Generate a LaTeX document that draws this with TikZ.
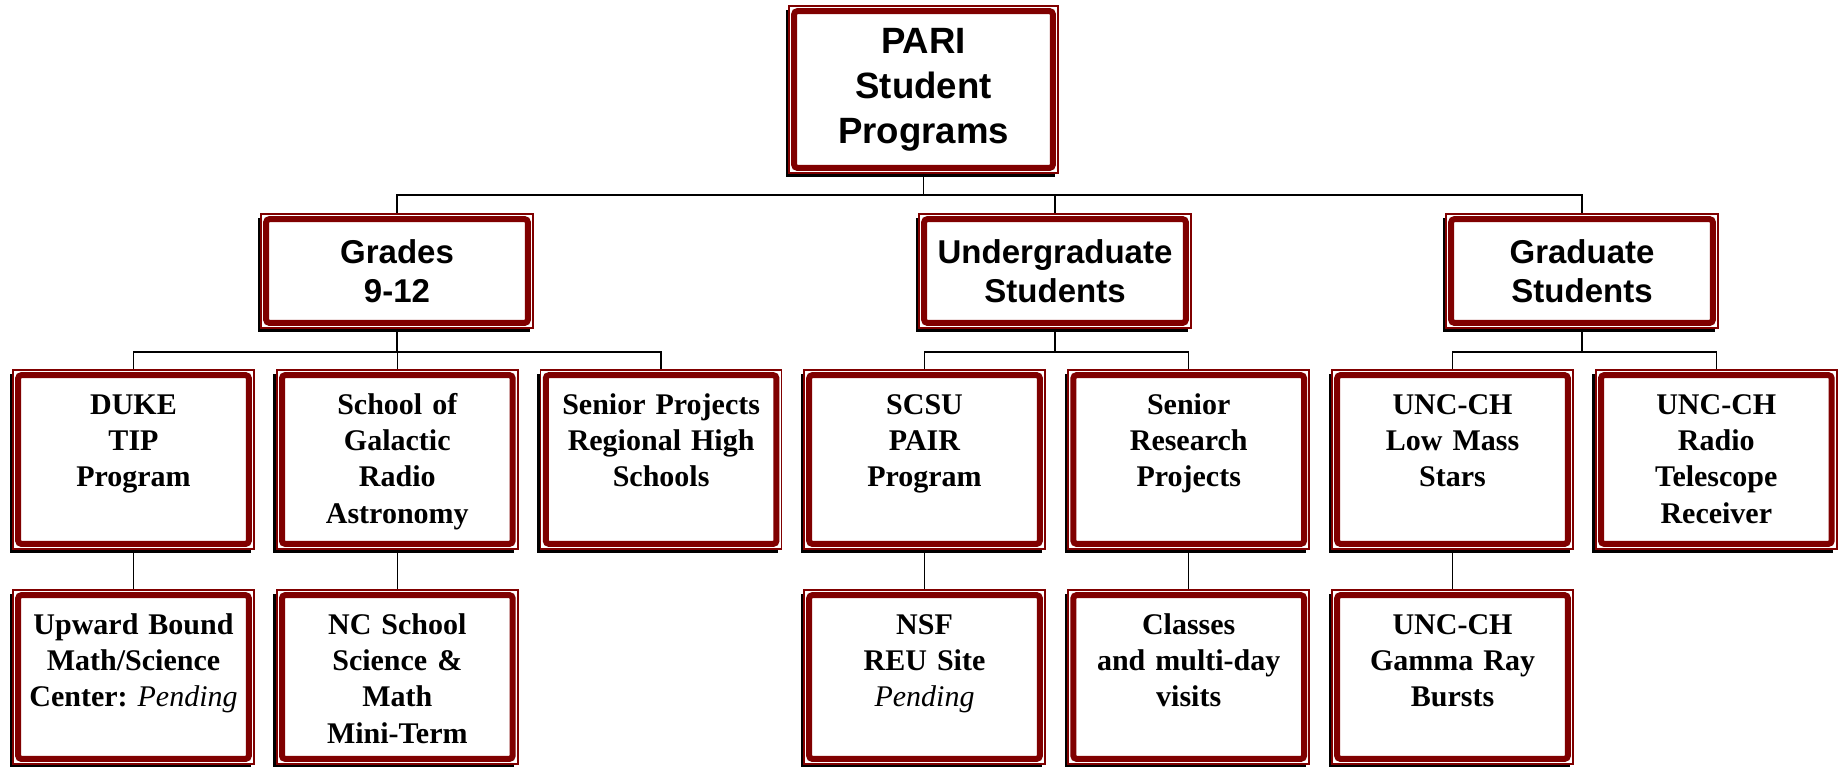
\documentclass[tikz,border=0pt]{standalone}
\usepackage{fontspec}
\setmainfont{Liberation Serif}
\newfontfamily\headfont{Liberation Sans}
\usetikzlibrary{shadows}
\definecolor{parired}{HTML}{800000}
\frenchspacing
\begin{document}
\begin{tikzpicture}[x=0.5pt,y=-0.5pt,
	frame/.style={draw=parired,line width=0.75pt,fill=white,inner sep=0pt,
		drop shadow={shadow xshift=-1.7pt,shadow yshift=-2pt,fill=black,opacity=1},
		path picture={\draw[parired,line width=3pt,rounded corners=1.5pt]
			([shift={(2.6pt,-2.6pt)}]path picture bounding box.north west) rectangle
			([shift={(-2.6pt,2.6pt)}]path picture bounding box.south east);}},
	chief/.style={frame,align=center,minimum width=134.5pt,minimum height=83.5pt,
		font=\headfont\bfseries\fontsize{18.3}{22.5}\selectfont},
	group/.style={frame,align=center,minimum width=136pt,minimum height=57pt,
		font=\headfont\bfseries\fontsize{16.5}{19.5}\selectfont},
	leaf/.style={frame,align=center,text width=120.5pt,text height=22pt,text depth=67.5pt,
		font=\bfseries\fontsize{15}{18.2}\selectfont},
	low/.style={leaf,text depth=65pt},
	link/.style={line width=0.75pt}]
	\useasboundingbox (0,0) rectangle (1845,766);
	% top
	\node[chief] (pari) at (923.5,89.5) {PARI\\Student\\Programs};
	% second row
	\node[group] (grades) at (397,271) {Grades\\9-12};
	\node[group] (ugrad) at (1055,271) {Undergraduate\\Students};
	\node[group] (grad) at (1582,271) {Graduate\\Students};
	% third row
	\node[leaf] (duke) at (133.5,459.5) {DUKE\\TIP\\Program};
	\node[leaf] (sgra) at (397.3,459.5) {School of\\Galactic\\Radio\\Astronomy};
	\node[leaf] (senior) at (661.1,459.5) {Senior Projects\\Regional High\\Schools};
	\node[leaf] (scsu) at (924.5,459.5) {SCSU\\PAIR\\Program};
	\node[leaf] (research) at (1188.7,459.5) {Senior\\Research\\Projects};
	\node[leaf] (lowmass) at (1452.5,459.5) {UNC-CH\\Low Mass\\Stars};
	\node[leaf] (radio) at (1716.3,459.5) {UNC-CH\\Radio\\Telescope\\Receiver};
	% fourth row
	\node[low] (upward) at (133.5,677) {Upward Bound\\Math/Science\\Center: {\mdseries\itshape Pending}};
	\node[low] (ncssm) at (397.3,677) {NC School\\Science \&\\Math\\Mini-Term};
	\node[low] (nsf) at (924.5,677) {NSF\\REU Site\\{\mdseries\itshape Pending}};
	\node[low] (classes) at (1188.7,677) {Classes\\and multi-day\\visits};
	\node[low] (gamma) at (1452.5,677) {UNC-CH\\Gamma Ray\\Bursts};
	% connectors
	\foreach \n in {grades,ugrad,grad}
		\draw[link] (pari.south) -- ++(0,21) -| (\n.north);
	\foreach \n in {duke,sgra,senior}
		\draw[link] (grades.south) -- ++(0,23) -| (\n.north);
	\foreach \n in {scsu,research}
		\draw[link] (ugrad.south) -- ++(0,23) -| (\n.north);
	\foreach \n in {lowmass,radio}
		\draw[link] (grad.south) -- ++(0,23) -| (\n.north);
	\draw[link] (duke.south) -- (upward.north);
	\draw[link] (sgra.south) -- (ncssm.north);
	\draw[link] (scsu.south) -- (nsf.north);
	\draw[link] (research.south) -- (classes.north);
	\draw[link] (lowmass.south) -- (gamma.north);
\end{tikzpicture}
\end{document}
